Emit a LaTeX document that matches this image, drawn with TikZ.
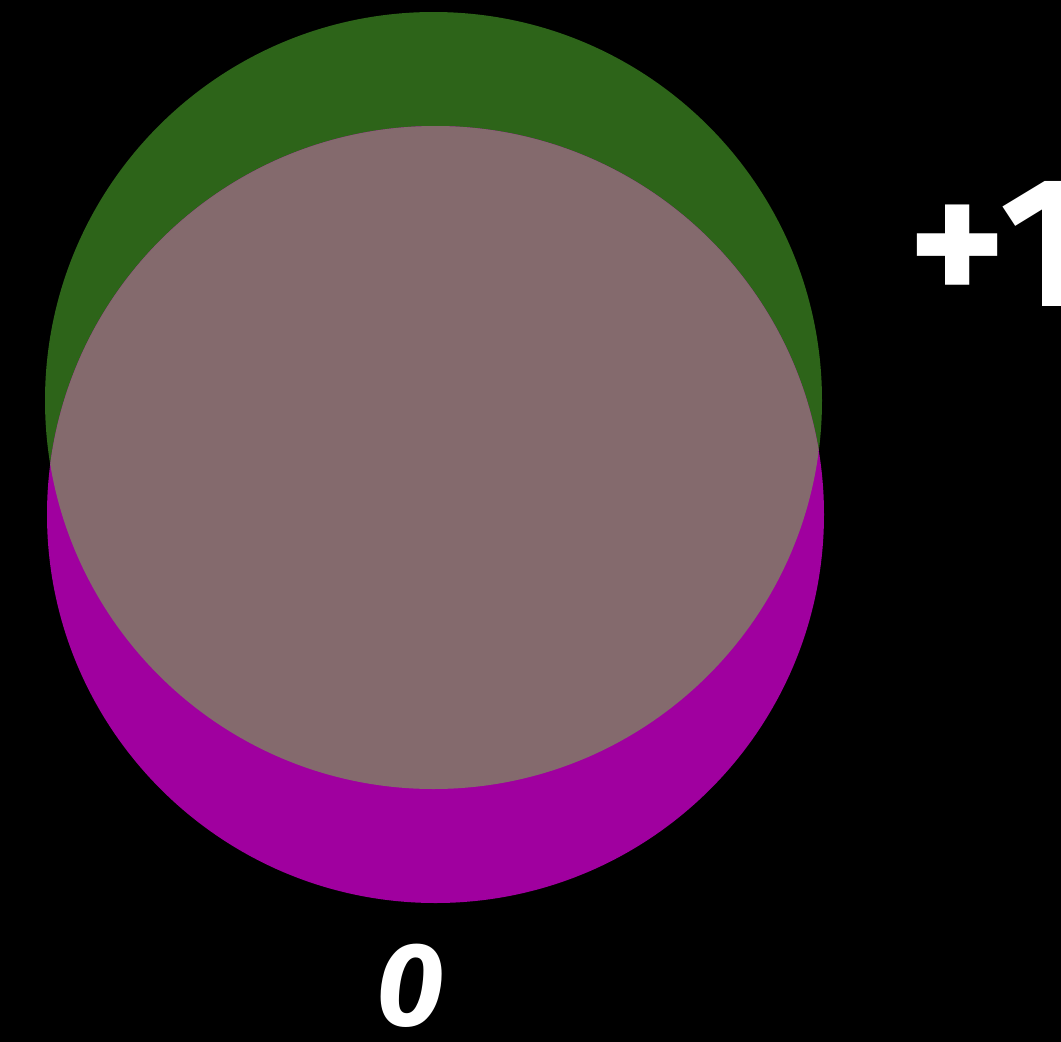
\documentclass[tikz,border=0pt]{standalone}
\usepackage{fontspec}
\setmainfont{Fira Sans}
\definecolor{grn}{HTML}{2D6419}
\definecolor{mag}{HTML}{A0009F}
\definecolor{ovl}{HTML}{846A6D}
\tikzset{lbl/.style={text=white,font=\bfseries,inner sep=0pt}}
\begin{document}
\begin{tikzpicture}[x=1pt,y=-1pt]
\fill[black] (0,0) rectangle (1061,1042);
\useasboundingbox (0,0) rectangle (1061,1042);
\clip (0,0) rectangle (1061,1042);
\fill[grn] (433.5,400.5) circle (388.5);
\fill[mag] (435.5,514.5) circle (388.5);
\begin{scope}
\clip (433.5,400.5) circle (388.5);
\fill[ovl] (435.5,514.5) circle (388.5);
\end{scope}
\node[lbl,anchor=base west,font=\fontsize{185}{185}\selectfont\bfseries] (plusone) at (908,306) {+\hspace{-6pt}1};
\node[lbl,font=\fontsize{118}{118}\selectfont\bfseries\itshape] (zero) at (410,986) {0};
\end{tikzpicture}
\end{document}
